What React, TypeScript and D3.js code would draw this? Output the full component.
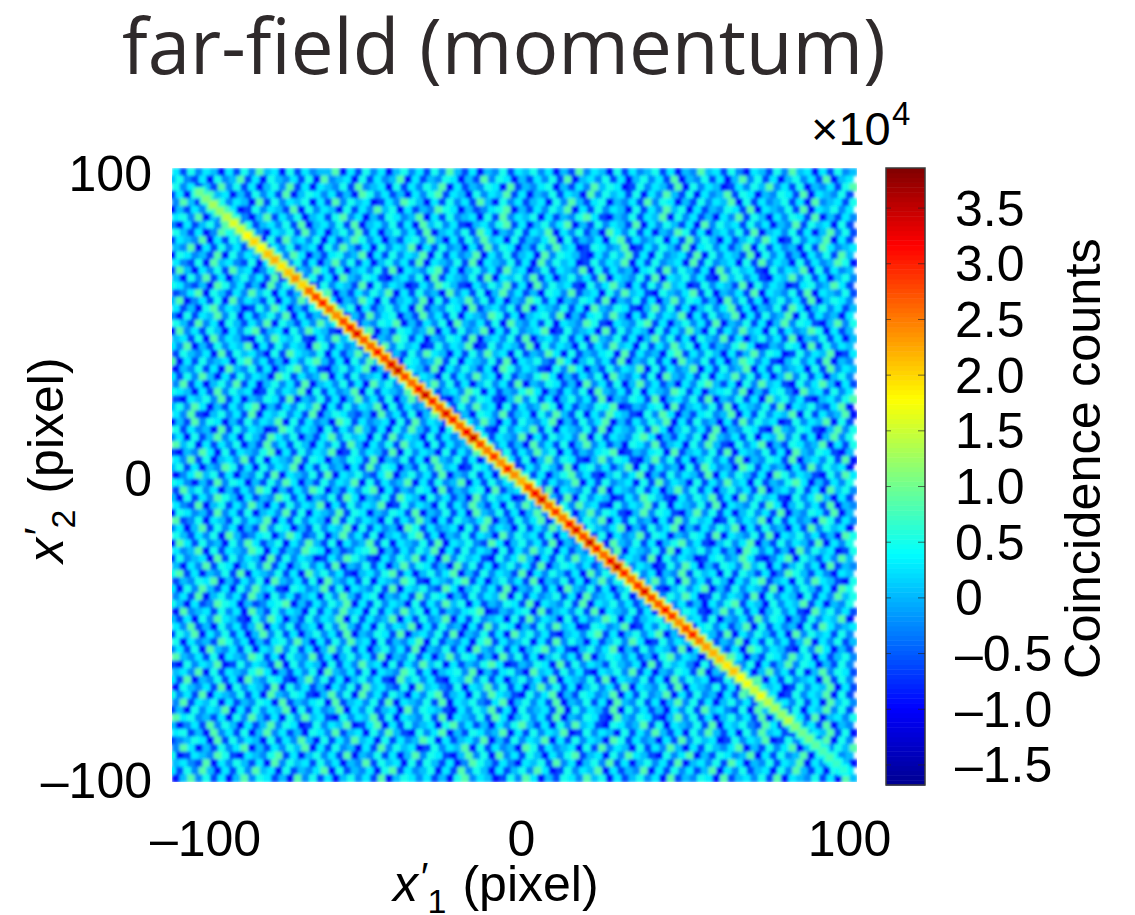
import React, { useEffect, useRef } from "react";
import * as d3 from "d3";

const xTicks = [-100, 0, 100];
const yTicks = [-100, 0, 100];
const barTicks = [3.5, 3.0, 2.5, 2.0, 1.5, 1.0, 0.5, 0, -0.5, -1.0, -1.5];
const barDomain = [-1.68, 3.86];

// jet colormap stops
const jetStops = [0, 0.125, 0.375, 0.625, 0.875, 1];
const jetColors = ["#00008f", "#0000ff", "#00ffff", "#ffff00", "#ff0000", "#800000"];

// value of each digit in backgroundRows, x 10^4 counts
const levels = [-1.4, -1.2, -0.95, -0.6, -0.25, 0.05, 0.3, 0.5, 0.85, 1.4];

// coincidence peak along x2' = -x1', one value every 2 px from x1' = -92, x 10^4 counts
const ridgeValues = [
  1.0, 1.1, 1.3, 1.2, 1.4, 1.6, 1.5, 1.8, 2.0, 1.8, 2.1, 2.2, 1.9, 2.1, 2.4, 2.0, 2.6, 2.8,
  3.0, 2.6, 2.4, 2.8, 3.0, 3.3, 2.7, 2.6, 3.1, 2.8, 3.3, 3.4, 2.8, 2.6, 3.1, 3.4, 3.0, 2.7, 3.3,
  3.0, 2.6, 3.2, 3.4, 2.8, 2.5, 2.9, 2.4, 3.0, 2.4, 2.2, 2.8, 3.2, 3.3, 2.6, 2.9, 2.5, 3.1, 3.3, 2.8,
  3.4, 3.0, 2.6, 3.2, 3.4, 3.0, 2.6, 2.9, 3.3, 2.8, 2.7, 3.1, 2.9, 2.4, 2.8, 3.0, 2.5, 2.3, 2.2, 2.1,
  1.9, 2.1, 1.8, 1.7, 1.5, 1.7, 1.4, 1.3, 1.2, 1.4, 1.1, 1.0, 1.0, 0.9, 0.8, 0.8, 0.7, 0.6,
];

// background speckle, hand estimated level per coarse cell (not cell accurate)
const backgroundRows = [
  "637465263748562736455826374625746374853625473657462538465273645736254856374265374856263745",
  "574362745836275463728456273645826354762538476253647382564736257463825473625847362574638256",
  "746253847362574836265473845627364758263547628354672536485762374653827465236475846372546378",
  "362748562537463825764635287463526478365274658362547365284756372648537264583762547638265473",
  "485263746528374657263847562364875263746385274635627485367254638476253746582736457362845637",
  "253647586237465382746527364857263548762534678253647582637465273648572635476382654738265746",
  "674825367425836472563784625376458263745627384657263547863254736582746352648375264763825364",
  "426357486273564738256473825647362857463256478362574682537465382647536284756374625483756273",
  "753624875364265738462574836257463825647386254736582647352864736254873625647382564736258473",
  "365482637546273856472635874625367485263748562735468273546278364572638475263574862374658263",
  "548263746358264735627485362746582637452638476253748562376458236475382674635827364527386456",
  "276453827465327486253674582637465827364582647356284765326475836274563827465382746352647385",
  "643728564372658473625847362574638265473826547362847562374658263745628374562738465273645872",
  "385264738562473625486372564738265478362574638562473654827364526738475362847563274658273645",
  "527483625746382564736285476325647283654738265748362574638265473826574632857463265847362574",
  "764352874635284756237465382746523648753264758362847563274685263748562374653827465236745863",
  "346827536485726354768253647582637452846372584635276483562748563275468372546382654738265473",
  "582463728465372648573625486273564827365847362548736254763825473625847635284736257463825764",
  "635278465237486253764857263574628354762835647382654736285476325847362574683625473862574635",
  "427365847263574826354762538467253846372654873625674825367485263746582637458263745827364526",
  "753846275364827536485726354768253647285463728546372654873265478362574638254736258476325847",
  "284637526478356274865327468253764582637458263745682374562837465273648527364856273645872635",
  "563728465327486573264857362548736254763825647382564736285473625847362754836257463825473625",
  "648253746582637465287364526384756237465823746538274652736485627364857263547862354762837465",
  "375462837564273865472635847625374865263748562735486273546728364527836475263584762374658236",
  "826374562784635264785362748563276458372654738265743862574638254736285473625874632574638254",
  "254736285473625784632574682537465382647536287465327486253746582736458263745826374562738465",
  "637485263746528736458263745627384652736485627354786253647285463728546372658473625847362574",
  "483625748362574638256473628574632584736257463825476352846372584635264785362748563274685263",
  "765263847562374658273645827365486273564872635478625364728546372654873625674825367428563746",
  "326574836254763825473625846372584763258476325847362574638254763825647382547362857463256478",
  "574862536478253647582637465827364528637485627364587263547682354672835647382654738265743682",
  "648325746382657463825764352846372584635276483562748537264865327486253674582637465827364582",
  "253847625374658273645287364562738465273648526375468253746825364758263745263847562374658273",
  "736452837465238746527364853627485362748563274658372654738265473862574638254763285476325847",
  "462735846275386472536847562738465273645827365482637564827365478625364728546372658473625847",
  "857263647253846375264738526473856273645827463528463725846352764835627485327468253764582637",
  "325486273654782637465823746538274652736485627364857263546782354672835647382654736285476325",
  "648372564837265483762547638254736285473625846372584763258476325847362574638254763825647382",
  "573625487362746582637452638476253748562376458236475382674635827364527386452873645263847562",
  "246857362547382654738265743682574638254736285473625784632574682537465382647536287465327486",
  "764253847625374862537465827364582637458263746528736458263745627384652736485627354786253647",
  "385746253648725364872536478263547628354672835647382654738265473625847362574638256473628574",
  "527364875263548736254738625473865274635284756237465382746523648753264758362847563274685263",
  "643825736485263746582637465823746527364853627485362748563274658372654738265473862574638254",
  "276453846372564837265483762547638254736285473625846372584763258476325847362574638254763825",
  "834726537465826374652837465273648526375468253746825364758263745263847562374658273645287364",
  "462583746253847625374658273645287364562738465273648526375468253746825364758263745263847562",
  "753647285346725863472584637256478362547365284756372648537264583762547638265473826574635287",
  "286374527486357264853726458372654738265743862574638254736285473625784632574682537465382647",
  "645827365487263548762534678253647582637465273648572635476382654738265746352874635284756237",
  "374562837465283746523648753264758362847563274685263748562374653827465236745863246827536485",
  "526483762574836257463825473625847635284736257463825764635278465237486253764857263574628354",
  "783625473826547362857463256478362574682537465382647536284756374625483756273753624875364265",
  "354768253647285463728546372654873265478362574638254736258476325847284637526478356274865327",
  "627485362748563276458372654738265743862574638254736285473625784632574682537465382647536287",
  "463825746385274635627485367254638476253746582736457362845637253647586237465382746527364857",
  "752634876253467825364758263746527364857263547638265473826574635287463526478365274658362547",
  "284563746285374652736485627364857263546782354672835647382654736285476325847362574632857463",
  "536274865327486253746582736458263745826374562738465273645872635672845637254638476253746582",
  "648352746358264735627485362746582637452638476253748562376458236475382674635827364527386456",
  "375826473625847362574638254763825647382547362857463256478362574682537465382647536284756374",
  "726453874625367485263748562735468273546278364572638475263574862374658263548263746358264735",
  "463728546372658473625847362574638254736285473625784632574682537465382647536287465327486253",
  "854637265487362754836257463825473625847635284736257463825764635278465237486253764857263574",
  "327465823746538274652736485627364857263547862354762837465375462837564273865472635847625374",
  "564827365478625364728546372654873625674825367428563746326574836254763825473625846372584763",
  "638254736285476325847362574632857463265847362574638265473826547362847562374658263745628374",
  "275463827465382746352647385643728564372658473625847362574638265473826547362847562374658263",
  "746382654736285476325847284637526478356274865327468253764582637458263745263847562374658273",
  "483657263547628354672835647382654738265743682574638254736285473625847362574638256473628574",
  "352746582637465827364582647356284765326475836274563827465382746352647385643728564372658473",
  "867453627485362748563274658372654738265473862574638254763285476325847362574638254763825647",
  "524638475263584762374658236826374562784635264785362748563276458372654738265743862574638254",
  "673528463725846352764835627485327468253764582637465823746527364853627485362748563274658372",
  "345762837465273648527364856273645872635648253746582637465287364526384756237465823746538274",
  "486253746825364758263745263847562374658273645287364562738465273648526375468253746825364758",
  "723654873265478362574638254736258476325847284637526478356274865327468253764582637458263745",
  "564382647536284756374625483756273753624875364265738462574836257463825647386254736582647352",
  "637485263748562735468273546278364572638475263574862374658263548263746358264735627485362746",
  "258473625847635284736257463825764635278465237486253764857263574628354762835647382654736285",
];

const width = 1135;
const height = 915;
const plot = { left: 172, right: 857, top: 168, bottom: 782 };
const bar = { left: 886, right: 925, top: 168, bottom: 785 };
const tickFont = "'Liberation Sans', Arial, sans-serif";
const tickSize = 50;

const Chart = () => {
  const chartRef = useRef<SVGSVGElement>(null);

  useEffect(() => {
    const svg = d3.select(chartRef.current);
    svg.selectAll("*").remove();

    const x = d3.scaleLinear().domain([-100, 100]).range([plot.left, plot.right]);
    const y = d3.scaleLinear().domain([-100, 100]).range([plot.bottom, plot.top]);
    const jet = d3
      .scaleLinear<string>()
      .domain(jetStops.map((t) => barDomain[0] + t * (barDomain[1] - barDomain[0])))
      .range(jetColors)
      .clamp(true);
    const rowScale = d3.scaleLinear().domain([0, backgroundRows.length]).range([plot.top, plot.bottom]);

    const defs = svg.append("defs");
    defs
      .append("filter")
      .attr("id", "soft")
      .attr("x", "-2%")
      .attr("y", "-2%")
      .attr("width", "104%")
      .attr("height", "104%")
      .append("feGaussianBlur")
      .attr("stdDeviation", 1.7);
    defs
      .append("clipPath")
      .attr("id", "plot-clip")
      .append("rect")
      .attr("x", plot.left)
      .attr("y", plot.top)
      .attr("width", plot.right - plot.left)
      .attr("height", plot.bottom - plot.top);

    const heat = svg
      .append("g")
      .attr("clip-path", "url(#plot-clip)")
      .append("g")
      .attr("filter", "url(#soft)");

    // background speckle, odd rows sit half a cell over so the grid does not show
    backgroundRows.forEach((row, r) => {
      const colScale = d3.scaleLinear().domain([0, row.length]).range([plot.left, plot.right]);
      const cell = colScale(1) - colScale(0);
      heat
        .append("g")
        .selectAll("rect")
        .data(row.split("").map(Number))
        .enter()
        .append("rect")
        .attr("x", (_, c) => colScale(c) - (r % 2) * cell * 0.5)
        .attr("y", rowScale(r))
        .attr("width", cell + 0.5)
        .attr("height", rowScale(1) - rowScale(0) + 0.5)
        .attr("fill", (d) => jet(levels[d]));
    });

    const ridge = ridgeValues.map((value, i) => ({ x1: -92 + i * 2, value }));

    // shoulder of the peak, then its core
    heat
      .append("g")
      .selectAll("rect")
      .data(ridge)
      .enter()
      .append("rect")
      .attr("x", (d) => x(d.x1 - 2))
      .attr("y", (d) => y(-d.x1 + 2))
      .attr("width", x(4) - x(0))
      .attr("height", y(0) - y(4))
      .attr("fill", (d) => jet(d.value * 0.62));

    heat
      .append("g")
      .selectAll("rect")
      .data(ridge)
      .enter()
      .append("rect")
      .attr("x", (d) => x(d.x1 - 1.25))
      .attr("y", (d) => y(-d.x1 + 1.25))
      .attr("width", x(2.5) - x(0))
      .attr("height", y(0) - y(2.5))
      .attr("fill", (d) => jet(d.value));

    // axis labels, the reference places them slightly off the data extent
    const xLabel = d3.scaleLinear().domain(xTicks).range([205, 521, 849]);
    const yLabel = d3.scaleLinear().domain(yTicks).range([781, 479, 174]);
    const fmt = (d: d3.NumberValue) => `${d}`.replace("-", "\u2013");

    const xAxis = svg
      .append("g")
      .attr("transform", "translate(0,823)")
      .call(d3.axisBottom(xLabel).tickValues(xTicks).tickSize(0).tickFormat(fmt));
    xAxis.select(".domain").remove();
    xAxis.selectAll("text").attr("dy", "0.35em").attr("y", 15);

    const yAxis = svg
      .append("g")
      .attr("transform", "translate(152,0)")
      .call(d3.axisLeft(yLabel).tickValues(yTicks).tickSize(0).tickFormat(fmt));
    yAxis.select(".domain").remove();
    yAxis.selectAll("text").attr("x", 0);

    // colorbar
    const barY = d3.scaleLinear().domain(barDomain).range([bar.bottom, bar.top]);
    const barSteps = d3.range(128);
    const stepValue = d3.scaleLinear().domain([0, 128]).range(barDomain);
    svg
      .append("g")
      .selectAll("rect")
      .data(barSteps)
      .enter()
      .append("rect")
      .attr("x", bar.left)
      .attr("y", (d) => barY(stepValue(d + 1)))
      .attr("width", bar.right - bar.left)
      .attr("height", (d) => barY(stepValue(d)) - barY(stepValue(d + 1)) + 0.5)
      .attr("fill", (d) => jet(stepValue(d + 0.5)));

    svg
      .append("rect")
      .attr("x", bar.left)
      .attr("y", bar.top)
      .attr("width", bar.right - bar.left)
      .attr("height", bar.bottom - bar.top)
      .attr("fill", "none")
      .attr("stroke", "#3a3a3a")
      .attr("stroke-width", 1.5);

    const barTickMarks = svg.append("g").attr("stroke", "#222").attr("stroke-opacity", 0.65);
    barTickMarks
      .selectAll("line.l")
      .data(barTicks)
      .enter()
      .append("line")
      .attr("class", "l")
      .attr("x1", bar.left)
      .attr("x2", bar.left + 5)
      .attr("y1", (d) => barY(d))
      .attr("y2", (d) => barY(d));
    barTickMarks
      .selectAll("line.r")
      .data(barTicks)
      .enter()
      .append("line")
      .attr("class", "r")
      .attr("x1", bar.right - 7)
      .attr("x2", bar.right)
      .attr("y1", (d) => barY(d))
      .attr("y2", (d) => barY(d));

    svg
      .append("g")
      .selectAll("text")
      .data(barTicks)
      .enter()
      .append("text")
      .attr("x", 955)
      .attr("y", (d) => barY(d))
      .attr("dy", "0.35em")
      .attr("font-family", tickFont)
      .attr("font-size", tickSize)
      .attr("fill", "#000")
      .text((d) => (d === 0 ? "0" : d.toFixed(1).replace("-", "\u2013")));

    svg.selectAll("g.tick text").attr("font-family", tickFont).attr("font-size", tickSize).attr("fill", "#000");
  }, []);

  return (
    <svg
      ref={chartRef}
      width={width}
      height={height}
      style={{ position: "absolute", left: 0, top: 0, background: "#fff" }}
    />
  );
};

const Labels = () => (
  <svg
    width={width}
    height={height}
    style={{ position: "absolute", left: 0, top: 0, pointerEvents: "none" }}
    fontFamily={tickFont}
    fill="#000"
  >
    <text x={122} y={74} fontFamily="'Open Sans', sans-serif" fontSize={76.3} fill="#2f2a2b">
      far-field (momentum)
    </text>
    <text x={811} y={145} fontSize={47}>
      ×10
    </text>
    <text x={892} y={125} fontSize={33}>
      4
    </text>
    <text x={393} y={901} fontSize={50}>
      <tspan fontStyle="italic">x</tspan>
      <tspan dx={1} dy={-10} fontSize={40} fontStyle="italic">′</tspan>
      <tspan dx={1} dy={22} fontSize={34}>1</tspan>
      <tspan dx={16} dy={-12}>(pixel)</tspan>
    </text>
    <text transform="translate(63,563) rotate(-90)" fontSize={50}>
      <tspan fontStyle="italic">x</tspan>
      <tspan dx={1} dy={-10} fontSize={40} fontStyle="italic">′</tspan>
      <tspan dx={1} dy={22} fontSize={34}>2</tspan>
      <tspan dx={16} dy={-12}>(pixel)</tspan>
    </text>
    <text transform="translate(1100,679) rotate(-90)" fontSize={50.5}>
      Coincidence counts
    </text>
  </svg>
);

const App = () => (
  <>
    <Chart />
    <Labels />
  </>
);

export default App;
